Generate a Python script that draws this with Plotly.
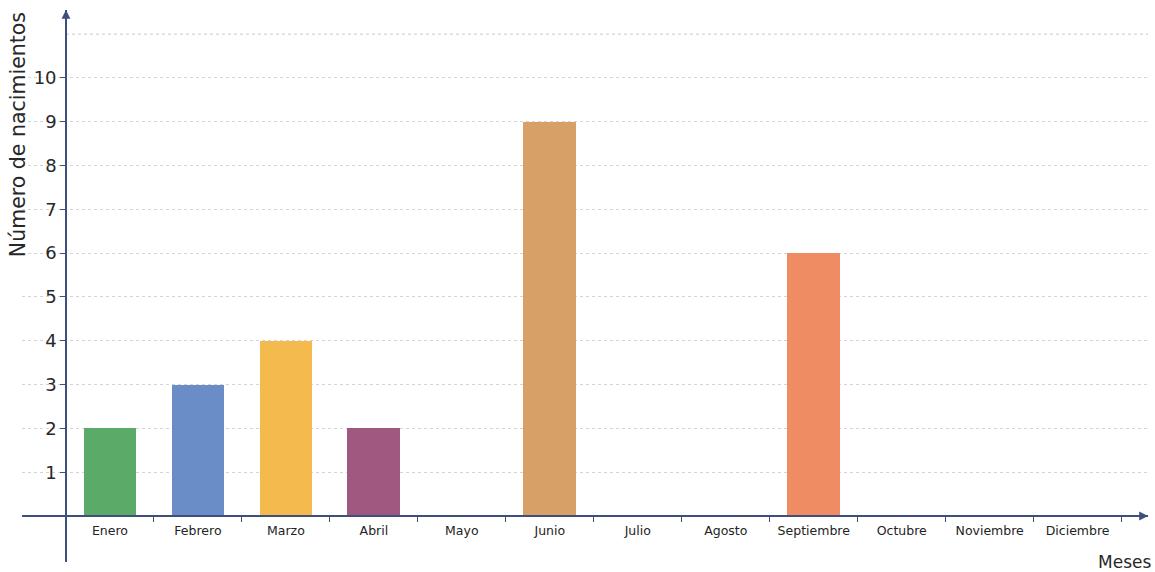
import plotly.graph_objects as go

# Data
meses = ["Enero", "Febrero", "Marzo", "Abril", "Mayo", "Junio", "Julio",
         "Agosto", "Septiembre", "Octubre", "Noviembre", "Diciembre"]
nacimientos = [2, 3, 4, 2, 0, 9, 0, 0, 6, 0, 0, 0]
colores = ["rgb(92,170,104)", "rgb(106,141,200)", "rgb(245,186,78)", "rgb(160,88,128)",
           "rgb(200,200,200)", "rgb(214,160,102)", "rgb(200,200,200)", "rgb(200,200,200)",
           "rgb(240,140,100)", "rgb(200,200,200)", "rgb(200,200,200)", "rgb(200,200,200)"]
y_ticks = list(range(1, 11))

axis_color = "rgb(62,78,125)"
grid_color = "rgb(212,212,212)"

x_pos = list(range(len(meses)))

fig = go.Figure()
fig.add_trace(go.Bar(
    x=x_pos,
    y=nacimientos,
    width=0.6,
    marker=dict(color=colores, line=dict(width=0)),
    showlegend=False,
    hoverinfo="skip",
))

x_range = [-1.0, 11.8]
y_range = [-1.05, 11.55]

fig.update_layout(
    width=1155,
    height=572,
    margin=dict(l=22, r=7, t=10, b=10),
    plot_bgcolor="white",
    paper_bgcolor="white",
    font=dict(family="DejaVu Sans, Verdana, sans-serif", color="rgb(40,40,40)"),
    bargap=0,
    xaxis=dict(
        range=x_range,
        tickvals=x_pos,
        ticktext=meses,
        tickfont=dict(size=12.5, color="rgb(35,35,35)"),
        ticks="",
        ticklabelstandoff=3,
        showgrid=False,
        zeroline=False,
        showline=True,
        linecolor=axis_color,
        linewidth=1.6,
        anchor="free",
        position=(0 - y_range[0]) / (y_range[1] - y_range[0]),
        minor=dict(tick0=0.5, dtick=1, ticks="outside", ticklen=5,
                   tickcolor=axis_color, tickwidth=1, showgrid=False),
    ),
    yaxis=dict(
        range=y_range,
        tickvals=y_ticks,
        ticktext=[str(v) for v in y_ticks],
        tickfont=dict(size=18, color="rgb(40,40,40)"),
        ticks="outside",
        ticklen=5,
        tickcolor=axis_color,
        showgrid=True,
        gridcolor=grid_color,
        griddash="dot",
        gridwidth=1.2,
        zeroline=False,
        showline=True,
        linecolor=axis_color,
        linewidth=1.6,
        anchor="free",
        position=(-0.5 - x_range[0]) / (x_range[1] - x_range[0]),
    ),
)

# extra dotted gridline at the top (no label)
fig.add_shape(type="line", xref="x", yref="y", x0=-0.5, x1=x_range[1], y0=11, y1=11,
              line=dict(color=grid_color, width=1.2, dash="dot"), layer="below")

# axis arrows
fig.add_annotation(x=x_range[1], y=0, xref="x", yref="y", ax=-14, ay=0, text="",
                   showarrow=True, arrowhead=2, arrowsize=1.1, arrowwidth=1.6,
                   arrowcolor=axis_color)
fig.add_annotation(x=-0.5, y=y_range[1], xref="x", yref="y", ax=0, ay=14, text="",
                   showarrow=True, arrowhead=2, arrowsize=1.1, arrowwidth=1.6,
                   arrowcolor=axis_color)

# axis titles
fig.add_annotation(text="Número de nacimientos", xref="paper", yref="paper",
                   x=-0.0036, y=0.775, xanchor="center", yanchor="middle",
                   textangle=-90, showarrow=False, font=dict(size=20.5, color="rgb(40,40,40)"))
fig.add_annotation(text="Meses", xref="paper", yref="paper",
                   x=1.004, y=0.0, xanchor="right", yanchor="middle",
                   showarrow=False, font=dict(size=17, color="rgb(40,40,40)"))

# remove the default page margin so the figure fills the window exactly
fig.write_html("out.html", config={"displayModeBar": False},
               post_script="document.body.style.margin='0';")
